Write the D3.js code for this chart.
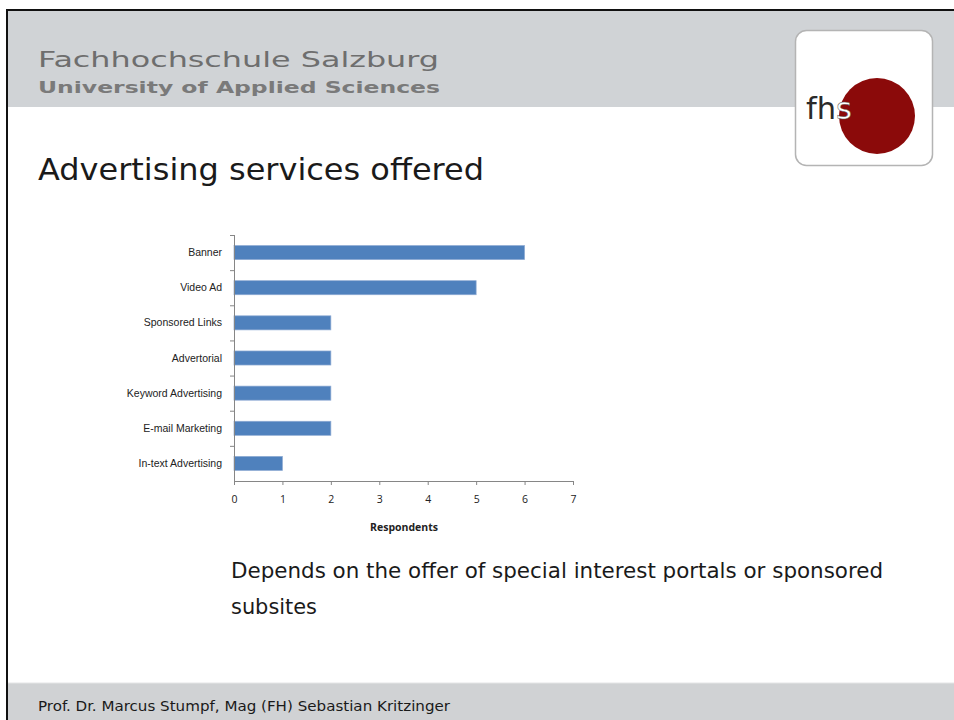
<!DOCTYPE html>
<html>
<head>
<meta charset="utf-8">
<script src="https://cdn.jsdelivr.net/npm/d3@7"></script>
<style>
  html, body { margin: 0; padding: 0; background: #fff; overflow: hidden; }
  svg { display: block; }
</style>
</head>
<body>
<svg id="slide" width="954" height="720"></svg>
<script>
// data
var categories = ["Banner", "Video Ad", "Sponsored Links", "Advertorial", "Keyword Advertising", "E-mail Marketing", "In-text Advertising"];
var respondents = [6, 5, 2, 2, 2, 2, 1];
var xTicks = [0, 1, 2, 3, 4, 5, 6, 7];

var svg = d3.select("#slide");

// slide frame + header
svg.append("rect").attr("x", 6).attr("y", 9).attr("width", 960).attr("height", 720).attr("fill", "#fff");
svg.append("rect").attr("x", 6).attr("y", 10).attr("width", 960).attr("height", 97).attr("fill", "#d0d3d6");
svg.append("rect").attr("x", 6).attr("y", 683).attr("width", 960).attr("height", 40).attr("fill", "#d0d2d4");
svg.append("line").attr("x1", 6).attr("x2", 960).attr("y1", 683).attr("y2", 683).attr("stroke", "#e4e5e6").attr("stroke-width", 1);
svg.append("line").attr("x1", 6).attr("x2", 960).attr("y1", 10).attr("y2", 10).attr("stroke", "#111").attr("stroke-width", 2);
svg.append("line").attr("x1", 7).attr("x2", 7).attr("y1", 9).attr("y2", 720).attr("stroke", "#111").attr("stroke-width", 2);

svg.append("text").attr("x", 38).attr("y", 67)
    .text("Fachhochschule Salzburg")
    .style("font-family", "DejaVu Sans").style("font-size", "22px").style("fill", "#6e6e6e")
    .attr("textLength", 401).attr("lengthAdjust", "spacingAndGlyphs");
svg.append("text").attr("x", 38).attr("y", 93)
    .text("University of Applied Sciences")
    .style("font-family", "DejaVu Sans").style("font-size", "16px").style("font-weight", "bold").style("fill", "#7a7a7a")
    .attr("textLength", 402).attr("lengthAdjust", "spacingAndGlyphs");

// logo
var logo = svg.append("g");
logo.append("rect").attr("x", 795.5).attr("y", 30.5).attr("width", 137).attr("height", 135).attr("rx", 11)
    .attr("fill", "#fff").attr("stroke", "#b4b4b4").attr("stroke-width", 1.5);
logo.append("circle").attr("cx", 877).attr("cy", 116).attr("r", 38).attr("fill", "#8b0a0a");
var logoText = logo.append("text").attr("x", 806).attr("y", 119)
    .style("font-family", "DejaVu Sans").style("font-size", "31px")
    .attr("textLength", 46).attr("lengthAdjust", "spacingAndGlyphs");
logoText.append("tspan").text("fh").style("fill", "#2a2a2a");
logoText.append("tspan").text("s").style("fill", "#fff").style("stroke", "#555").style("stroke-width", 0.5);

// title
svg.append("text").attr("x", 38).attr("y", 180)
    .text("Advertising services offered")
    .style("font-family", "DejaVu Sans").style("font-size", "31px").style("fill", "#1a1a1a")
    .attr("textLength", 446).attr("lengthAdjust", "spacingAndGlyphs");

// chart
var x = d3.scaleLinear().domain([0, 7]).range([234, 573]);
var y = d3.scaleBand().domain(categories).range([235, 481]).paddingInner(0.6).paddingOuter(0.3);
var yLine = d3.scaleBand().domain(categories).range([235, 481]);

var chart = svg.append("g");

chart.selectAll("rect.bar")
    .data(categories)
    .enter()
    .append("rect")
    .attr("class", "bar")
    .attr("x", x(0))
    .attr("y", function(d) { return y(d); })
    .attr("width", function(d, i) { return x(respondents[i]) - x(0); })
    .attr("height", y.bandwidth())
    .attr("fill", "#4f81bd")
    .attr("stroke", "#8eaad3")
    .attr("stroke-width", 0.7);

// y axis: line + separators
chart.append("line").attr("x1", 234.5).attr("x2", 234.5).attr("y1", 235).attr("y2", 481)
    .attr("stroke", "#868686");
chart.selectAll("line.ytick")
    .data(categories)
    .enter()
    .append("line")
    .attr("class", "ytick")
    .attr("x1", 230).attr("x2", 234.5)
    .attr("y1", function(d) { return yLine(d) + 0.5; })
    .attr("y2", function(d) { return yLine(d) + 0.5; })
    .attr("stroke", "#868686");
chart.selectAll("text.ylab")
    .data(categories)
    .enter()
    .append("text")
    .attr("class", "ylab")
    .attr("x", 222)
    .attr("y", function(d) { return y(d) + y.bandwidth() / 2 + 3.5; })
    .style("text-anchor", "end")
    .style("font-family", "Liberation Sans, Arial")
    .style("font-size", "10.5px")
    .style("fill", "#222")
    .text(function(d) { return d; });

// x axis
var xAxis = d3.axisBottom(x).tickValues(xTicks).tickFormat(d3.format("d")).tickSize(4).tickSizeOuter(0).tickPadding(11);
var xg = chart.append("g").attr("transform", "translate(0,481)").call(xAxis);
xg.select(".domain").attr("stroke", "#868686");
xg.selectAll(".tick line").attr("stroke", "#868686");
xg.selectAll(".tick text")
    .style("font-family", "Open Sans, Liberation Sans")
    .style("font-size", "10.5px")
    .style("fill", "#222");

chart.append("text").attr("x", 404).attr("y", 531)
    .text("Respondents")
    .style("text-anchor", "middle")
    .style("font-family", "Open Sans, Liberation Sans")
    .style("font-size", "10.5px")
    .style("font-weight", "bold")
    .style("fill", "#222");

// body text
svg.append("text").attr("x", 231).attr("y", 578)
    .text("Depends on the offer of special interest portals or sponsored")
    .style("font-family", "DejaVu Sans Condensed, DejaVu Sans").style("font-size", "21px").style("fill", "#1a1a1a")
    .attr("textLength", 652).attr("lengthAdjust", "spacingAndGlyphs");
svg.append("text").attr("x", 231).attr("y", 614)
    .text("subsites")
    .style("font-family", "DejaVu Sans Condensed, DejaVu Sans").style("font-size", "21px").style("fill", "#1a1a1a")
    .attr("textLength", 86).attr("lengthAdjust", "spacingAndGlyphs");

// footer
svg.append("text").attr("x", 38).attr("y", 711)
    .text("Prof. Dr. Marcus Stumpf, Mag (FH) Sebastian Kritzinger")
    .style("font-family", "DejaVu Sans Condensed, DejaVu Sans").style("font-size", "14.5px").style("fill", "#1a1a1a")
    .attr("textLength", 412).attr("lengthAdjust", "spacingAndGlyphs");
</script>
</body>
</html>
